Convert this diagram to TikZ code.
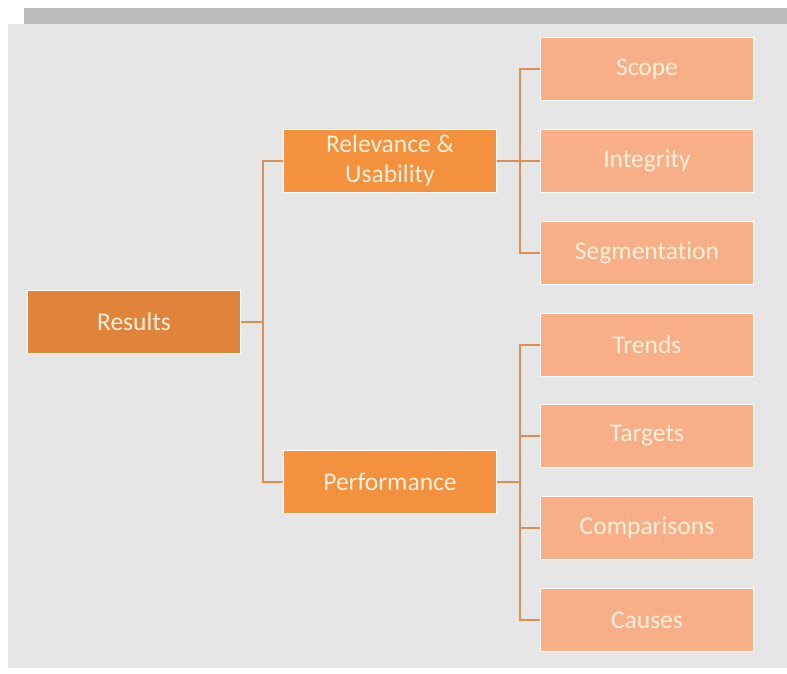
\documentclass[tikz,border=0pt]{standalone}
\usepackage{fontspec}
\setmainfont{Carlito}[Ligatures=NoCommon]
\definecolor{panel}{HTML}{E6E6E6}
\definecolor{bar}{HTML}{BDBDBD}
\definecolor{rootc}{HTML}{E0843C}
\definecolor{midc}{HTML}{F4913F}
\definecolor{leafc}{HTML}{F8AF88}
\definecolor{linec}{HTML}{DC8E55}
\definecolor{txtc}{HTML}{FFF0DC}
\begin{document}
\begin{tikzpicture}[x=1pt,y=-1pt,
  box/.style={draw=white,line width=1.6pt,minimum width=213pt,minimum height=63pt,inner sep=0pt,
    text=txtc,font=\fontsize{25.5}{30}\selectfont,align=center},
  rootbox/.style={box,fill=rootc},
  midbox/.style={box,fill=midc},
  leafbox/.style={box,fill=leafc},
  conn/.style={draw=linec,line width=1.6pt}]
\useasboundingbox (0,0) rectangle (787,673);
\fill[white] (0,0) rectangle (787,673);
\fill[panel] (8,24) rectangle (787,668);
\fill[bar] (24,8) rectangle (787,24);
\node[rootbox] (res) at (134,322) {Results};
\node[midbox] (rel) at (390,161) {Relevance \&\\Usability};
\node[midbox] (perf) at (390,482) {Performance};
\node[leafbox] (scope) at (647,69) {Scope};
\node[leafbox] (integ) at (647,161) {Integrity};
\node[leafbox] (seg) at (647,253) {Segmentation};
\node[leafbox] (trend) at (647,345) {Trends};
\node[leafbox] (targ) at (647,436) {Targets};
\node[leafbox] (comp) at (647,528) {Comparisons};
\node[leafbox] (cause) at (647,620) {Causes};
\coordinate (j1) at (263,322);
\coordinate (j2) at (520,161);
\coordinate (j3) at (520,482);
\draw[conn] (res.east) -- (j1);
\draw[conn] (rel.west) -| (j1) |- (perf.west);
\draw[conn] (rel.east) -- (j2);
\draw[conn] (scope.west) -| (j2) |- (seg.west);
\draw[conn] (integ.west) -- (j2);
\draw[conn] (perf.east) -- (j3);
\draw[conn] (trend.west) -| (j3) |- (cause.west);
\draw[conn] (targ.west) -| (j3);
\draw[conn] (comp.west) -| (j3);
\end{tikzpicture}
\end{document}
